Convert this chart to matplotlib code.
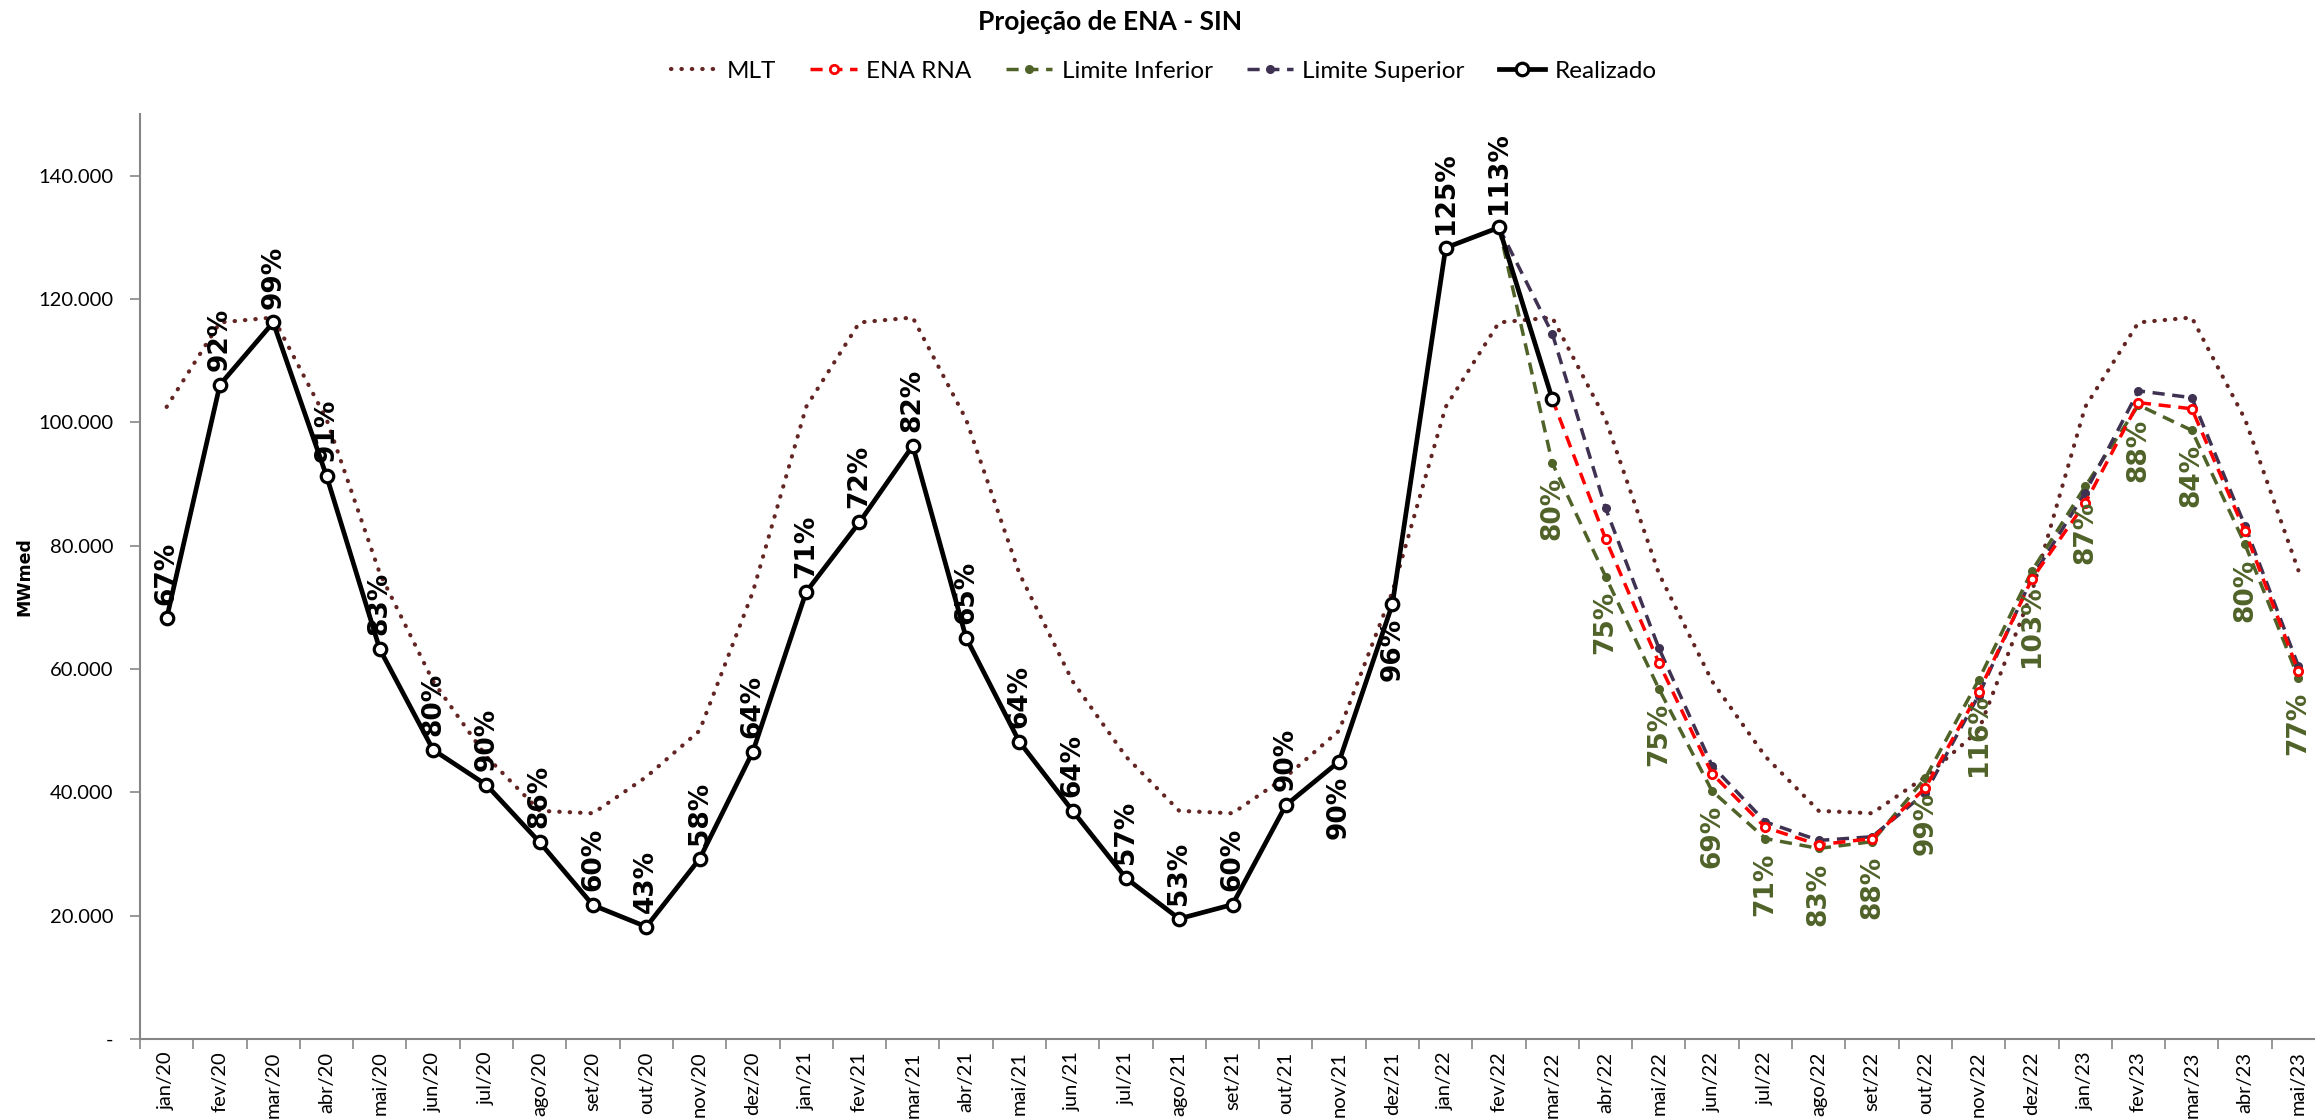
import numpy as np
import matplotlib
matplotlib.use("Agg")
import matplotlib.pyplot as plt
from matplotlib.ticker import FuncFormatter

# categories
months = ['jan/20', 'fev/20', 'mar/20', 'abr/20', 'mai/20', 'jun/20', 'jul/20', 'ago/20', 'set/20', 'out/20', 'nov/20', 'dez/20',
          'jan/21', 'fev/21', 'mar/21', 'abr/21', 'mai/21', 'jun/21', 'jul/21', 'ago/21', 'set/21', 'out/21', 'nov/21', 'dez/21',
          'jan/22', 'fev/22', 'mar/22', 'abr/22', 'mai/22', 'jun/22', 'jul/22', 'ago/22', 'set/22', 'out/22', 'nov/22', 'dez/22',
          'jan/23', 'fev/23', 'mar/23', 'abr/23', 'mai/23']

# MLT (MWmed)
mlt = [102500, 116200, 117000, 100500, 75500, 58000, 45800, 37000, 36600, 42500, 50000, 72500,
       102500, 116200, 117000, 100500, 75500, 58000, 45800, 37000, 36600, 42500, 50000, 72500,
       102500, 116200, 117000, 100500, 75500, 58000, 45800, 37000, 36600, 42500, 50000, 72500,
       102500, 116200, 117000, 100500, 76000]

# Realizado jan/20 .. mar/22
realizado = [68200, 106100, 116200, 91300, 63200, 46900, 41200, 31900, 21700, 18200, 29200, 46600,
             72500, 83800, 96200, 65100, 48200, 37000, 26100, 19500, 21800, 37900, 45000, 70500,
             128300, 131600, 103800]
realizado_pct = ['67%', '92%', '99%', '91%', '83%', '80%', '90%', '86%', '60%', '43%', '58%', '64%',
                 '71%', '72%', '82%', '65%', '64%', '64%', '57%', '53%', '60%', '90%', '90%', '96%',
                 '125%', '113%', '']
realizado_below = ['nov/21', 'dez/21']

# projections
lim_inf_start = 'fev/22'
lim_inf = [131600, 93400, 75000, 56800, 40200, 32500, 30900, 32000, 42300, 58200, 75900,
           89600, 102800, 98700, 80200, 58600]
lim_inf_pct = ['', '80%', '75%', '75%', '69%', '71%', '83%', '88%', '99%', '116%', '103%',
               '87%', '88%', '84%', '80%', '77%']

lim_sup_start = 'fev/22'
lim_sup = [131600, 114400, 86100, 63400, 44300, 35200, 32200, 32800, 39900, 55700, 74800,
           88600, 105100, 104000, 83200, 60500]

rna_start = 'mar/22'
ena_rna = [103800, 81100, 61000, 43000, 34300, 31500, 32500, 40700, 56200, 74600,
           86900, 103200, 102200, 82300, 59600]

c_mlt = '#632523'
c_inf = '#4F6228'
c_sup = '#3F3151'
c_rna = '#FF0000'
c_grid = '#868686'
narrow = ['Lato', 'DejaVu Sans']

plt.rcParams['font.family'] = ['DejaVu Sans']

fig = plt.figure(figsize=(23.15, 11.19), dpi=100)
ax = fig.add_axes([140 / 2315, 1 - 1039 / 1119, 2185 / 2315, 925 / 1119])

x = np.arange(len(months))
x_real = x[:len(realizado)]
i_inf = months.index(lim_inf_start)
i_sup = months.index(lim_sup_start)
i_rna = months.index(rna_start)
x_inf = x[i_inf:i_inf + len(lim_inf)]
x_sup = x[i_sup:i_sup + len(lim_sup)]
x_rna = x[i_rna:i_rna + len(ena_rna)]

ax.plot(x, mlt, color=c_mlt, lw=3.0, linestyle=(0, (0.1, 2.4)), dash_capstyle='round',
        label='MLT', zorder=2)
ax.plot(x_rna, ena_rna, color=c_rna, lw=2.5, linestyle=(0, (3.5, 2.2)), marker='o',
        markersize=6, markerfacecolor='white', markeredgecolor=c_rna, markeredgewidth=2,
        label='ENA RNA', zorder=4)
ax.plot(x_inf, lim_inf, color=c_inf, lw=2.5, linestyle=(0, (3.5, 2.2)), marker='o',
        markersize=5.5, markerfacecolor=c_inf, markeredgecolor=c_inf,
        label='Limite Inferior', zorder=3)
ax.plot(x_sup, lim_sup, color=c_sup, lw=2.5, linestyle=(0, (3.5, 2.2)), marker='o',
        markersize=5.5, markerfacecolor=c_sup, markeredgecolor=c_sup,
        label='Limite Superior', zorder=3)
ax.plot(x_real, realizado, color='black', lw=3.4, marker='o', markersize=9,
        markerfacecolor='white', markeredgecolor='black', markeredgewidth=2.3,
        label='Realizado', zorder=5)

# data labels
for xi, v, t in zip(x_real, realizado, realizado_pct):
    if not t:
        continue
    below = months[xi] in realizado_below
    ax.annotate(t, (xi, v), xytext=(0, -10 if below else 10), textcoords='offset points',
                rotation=90, ha='center', va='top' if below else 'bottom',
                fontsize=19, fontweight='bold', color='black', zorder=6)

for xi, v, t in zip(x_inf, lim_inf, lim_inf_pct):
    if not t:
        continue
    ax.annotate(t, (xi, v), xytext=(0, -10), textcoords='offset points',
                rotation=90, ha='center', va='top',
                fontsize=19, fontweight='bold', color=c_inf, zorder=6)

ax.set_xlim(-0.5, len(months) - 0.5)
ax.set_ylim(0, 150000)
ax.set_yticks(np.arange(0, 140001, 20000))
ax.yaxis.set_major_formatter(FuncFormatter(
    lambda v, p: '-' if v == 0 else f'{int(v):,}'.replace(',', '.')))

ax.set_xticks(x)
ax.set_xticklabels(months, rotation=90, fontsize=14.5, family=narrow)
ax.set_xticks(np.arange(-0.5, len(months), 1), minor=True)
ax.tick_params(axis='x', which='major', length=0, pad=9)
ax.tick_params(axis='x', which='minor', length=7, width=1.2, color=c_grid)
ax.tick_params(axis='y', length=7, width=1.2, color=c_grid, pad=12)
for lab in ax.get_yticklabels():
    lab.set_family(narrow)
    lab.set_fontsize(14.5)

for s in ['top', 'right']:
    ax.spines[s].set_visible(False)
for s in ['left', 'bottom']:
    ax.spines[s].set_color(c_grid)
    ax.spines[s].set_linewidth(1.5)

ax.set_ylabel('MWmed', fontsize=12.5, fontweight='bold')
ax.yaxis.set_label_coords(-0.049, 0.5)

fig.text(1110 / 2315, 1 - 22 / 1119, 'Projeção de ENA - SIN', ha='center', va='center',
         fontsize=19, fontweight='bold', family=narrow)

fig.legend(loc='center', bbox_to_anchor=(1164 / 2315, 1 - 71 / 1119), ncol=5, frameon=False,
           handlelength=1.9, handletextpad=0.4, columnspacing=1.4,
           prop={'family': narrow, 'size': 17.5})

fig.savefig('out.png', dpi=100)
